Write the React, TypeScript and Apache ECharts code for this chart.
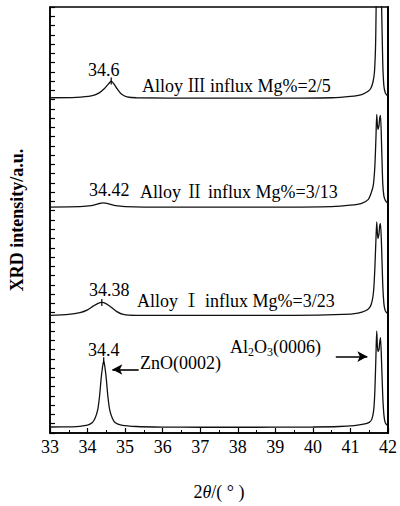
import React, { useEffect, useRef } from "react";
import * as echarts from "echarts";

// 2θ range and tick values
const xTickValues = [33, 34, 35, 36, 37, 38, 39, 40, 41, 42];

// Traces: [2θ (deg), intensity (a.u., stacked)]
const znoTrace: [number, number][] = [
  [33.0, 0.65], [33.6, 0.66], [34.0, 0.85], [34.12, 1.1], [34.2, 1.6], [34.27, 2.5], [34.32, 4.0],
  [34.37, 6.2], [34.43, 7.8], [34.49, 6.2], [34.54, 4.0], [34.59, 2.5], [34.66, 1.6], [34.74, 1.1],
  [34.9, 0.85], [35.3, 0.7], [36.0, 0.64], [37.0, 0.62], [38.0, 0.62], [39.0, 0.63], [40.0, 0.65],
  [40.7, 0.7], [41.1, 0.8], [41.35, 0.95], [41.5, 1.15], [41.57, 1.5], [41.62, 2.5], [41.65, 4.5],
  [41.68, 8.5], [41.7, 11.0], [41.73, 8.8], [41.76, 9.0], [41.78, 9.8], [41.8, 10.3], [41.83, 7.5],
  [41.86, 4.0], [41.89, 2.0], [41.92, 1.2], [41.96, 0.9], [42.0, 0.8],
];

const alloy1Trace: [number, number][] = [
  [33.0, 12.7], [33.5, 12.8], [33.8, 13.0], [34.0, 13.3], [34.15, 13.7], [34.28, 14.0], [34.38, 14.1],
  [34.5, 13.95], [34.62, 13.6], [34.78, 13.1], [34.95, 12.8], [35.3, 12.7], [36.5, 12.7], [38.0, 12.7],
  [39.5, 12.7], [40.8, 12.8], [41.2, 12.95], [41.4, 13.2], [41.52, 13.6], [41.58, 14.3], [41.62, 15.5],
  [41.65, 17.8], [41.68, 21.0], [41.7, 22.8], [41.73, 21.0], [41.76, 21.5], [41.78, 22.4], [41.8, 22.6],
  [41.83, 20.0], [41.86, 16.0], [41.89, 14.0], [41.92, 13.3], [41.96, 13.0], [42.0, 12.9],
];

const alloy2Trace: [number, number][] = [
  [33.0, 24.4], [33.8, 24.45], [34.1, 24.55], [34.28, 24.75], [34.42, 24.85], [34.56, 24.75],
  [34.75, 24.55], [35.0, 24.45], [35.5, 24.4], [37.0, 24.4], [39.0, 24.4], [40.5, 24.45], [41.0, 24.6],
  [41.3, 24.8], [41.47, 25.2], [41.55, 25.9], [41.61, 26.8], [41.65, 28.8], [41.68, 32.0], [41.7, 34.4],
  [41.73, 32.8], [41.76, 33.2], [41.78, 34.0], [41.8, 34.3], [41.83, 31.0], [41.86, 27.0], [41.89, 25.6],
  [41.93, 25.1], [41.97, 24.9], [42.0, 24.8],
];

const alloy3Trace: [number, number][] = [
  [33.0, 36.2], [33.7, 36.25], [34.1, 36.4], [34.3, 36.7], [34.45, 37.2], [34.56, 37.7], [34.63, 38.0],
  [34.7, 37.7], [34.8, 37.1], [34.9, 36.6], [35.05, 36.3], [35.3, 36.2], [37.0, 36.15], [39.0, 36.15],
  [40.5, 36.2], [41.0, 36.35], [41.3, 36.55], [41.47, 36.9], [41.54, 37.2], [41.6, 37.9], [41.64, 39.0],
  [41.67, 42.0], [41.7, 49.0], [41.73, 47.0], [41.76, 48.0], [41.8, 50.0], [41.83, 46.0], [41.86, 40.0],
  [41.89, 37.5], [41.93, 36.7], [41.97, 36.5], [42.0, 36.4],
];

// Peak positions marked with a small tick
const peakMarks: [number, number][] = [
  [34.63, 38.0],
  [34.38, 14.1],
  [34.43, 7.8],
];

// Arrows (start, end) in data coords
const znoArrow: [[number, number], [number, number]] = [[35.36, 6.86], [34.66, 6.86]];
const al2o3Arrow: [[number, number], [number, number]] = [[40.61, 8.25], [41.45, 8.25]];

const SERIF = "'Liberation Serif', 'Times New Roman', 'Noto Serif CJK SC', 'Noto Sans CJK SC', serif";

export default function App() {
  const ref = useRef<HTMLDivElement>(null);

  useEffect(() => {
    if (!ref.current) return;
    const chart = echarts.init(ref.current, null, { renderer: "svg" });

    const lineSeries = (data: [number, number][], extra: any = {}) => ({
      type: "line",
      data,
      showSymbol: false,
      symbol: "none",
      smooth: 0.25,
      clip: true,
      lineStyle: { color: "#111", width: 1.3 },
      silent: true,
      ...extra,
    });

    const txt = (text: string, x: number, y: number, extra: any = {}) => ({
      type: "text",
      x,
      y,
      silent: true,
      style: {
        text,
        fill: "#000",
        font: `18px ${SERIF}`,
        textAlign: "left",
        textVerticalAlign: "middle",
        ...extra,
      },
    });

    chart.setOption({
      animation: false,
      backgroundColor: "#fff",
      grid: {
        left: 48,
        right: 9,
        top: 7,
        bottom: 70,
        show: true,
        borderColor: "#000",
        borderWidth: 1.5,
        backgroundColor: "transparent",
      },
      xAxis: {
        type: "value",
        min: 33,
        max: 42,
        interval: 1,
        axisLine: { show: true, lineStyle: { color: "#000", width: 1.5 } },
        axisTick: { show: true, inside: true, length: 5, lineStyle: { color: "#000", width: 1.2 } },
        minorTick: { show: true, splitNumber: 2, length: 3, lineStyle: { color: "#000", width: 1 } },
        splitLine: { show: false },
        axisLabel: {
          color: "#000",
          fontSize: 18,
          fontFamily: SERIF,
          margin: 5,
          formatter: (v: number) => (xTickValues.includes(v) ? String(v) : ""),
        },
        name: "{a|2}{b|θ}{a|/( ° )}",
        nameLocation: "middle",
        nameGap: 50,
        nameTextStyle: {
          rich: {
            a: { fontSize: 18, fontFamily: SERIF, color: "#000" },
            b: { fontSize: 18, fontFamily: SERIF, color: "#000", fontStyle: "italic" },
          },
        },
      },
      yAxis: [
        {
          type: "value",
          min: 0,
          max: 46,
          interval: 1,
          axisLine: { show: true, lineStyle: { color: "#000", width: 1.5 } },
          axisTick: { show: true, inside: true, length: 5, lineStyle: { color: "#000", width: 1.2 } },
          axisLabel: { show: false },
          splitLine: { show: false },
          name: "XRD intensity/a.u.",
          nameLocation: "middle",
          nameGap: 24,
          nameTextStyle: { color: "#000", fontSize: 18, fontWeight: "bold", fontFamily: SERIF },
        },
        {
          type: "value",
          min: 0,
          max: 46,
          position: "right",
          axisLine: { show: true, lineStyle: { color: "#000", width: 2 } },
          axisTick: { show: false },
          axisLabel: { show: false },
          splitLine: { show: false },
        },
      ],
      series: [
        lineSeries(znoTrace, {
          markLine: {
            silent: true,
            symbol: ["none", "arrow"],
            symbolSize: [8, 10],
            label: { show: false },
            lineStyle: { color: "#000", width: 1.6, type: "solid" },
            data: [
              [{ coord: znoArrow[0] }, { coord: znoArrow[1] }],
              [{ coord: al2o3Arrow[0] }, { coord: al2o3Arrow[1] }],
            ],
          },
          markPoint: {
            silent: true,
            symbol: "rect",
            symbolSize: [1.2, 7],
            itemStyle: { color: "#000" },
            label: { show: false },
            data: peakMarks.map((p) => ({ coord: p })),
          },
        }),
        lineSeries(alloy1Trace),
        lineSeries(alloy2Trace),
        lineSeries(alloy3Trace),
      ],
      graphic: [
        txt("34.6", 88, 70),
        txt("Alloy Ⅲ influx Mg%=2/5", 142, 86),
        txt("34.42", 89, 190),
        txt("Alloy Ⅱ influx Mg%=3/13", 140, 192),
        txt("34.38", 89, 290),
        txt("Alloy Ⅰ influx Mg%=3/23", 137, 301),
        txt("34.4", 88, 350),
        txt("ZnO(0002)", 140, 363),
        {
          type: "text",
          x: 230,
          y: 347,
          silent: true,
          style: {
            text: "{a|Al}{s|2}{a|O}{s|3}{a|(0006)}",
            textAlign: "left",
            textVerticalAlign: "middle",
            rich: {
              a: { fontSize: 18, fontFamily: SERIF, fill: "#000", lineHeight: 22 },
              s: { fontSize: 12, fontFamily: SERIF, fill: "#000", lineHeight: 22, padding: [10, 0, 0, 0] },
            },
          },
        },
      ],
    });

    return () => chart.dispose();
  }, []);

  return <div ref={ref} style={{ position: "fixed", left: 0, top: 0, width: 400, height: 506 }} />;
}
